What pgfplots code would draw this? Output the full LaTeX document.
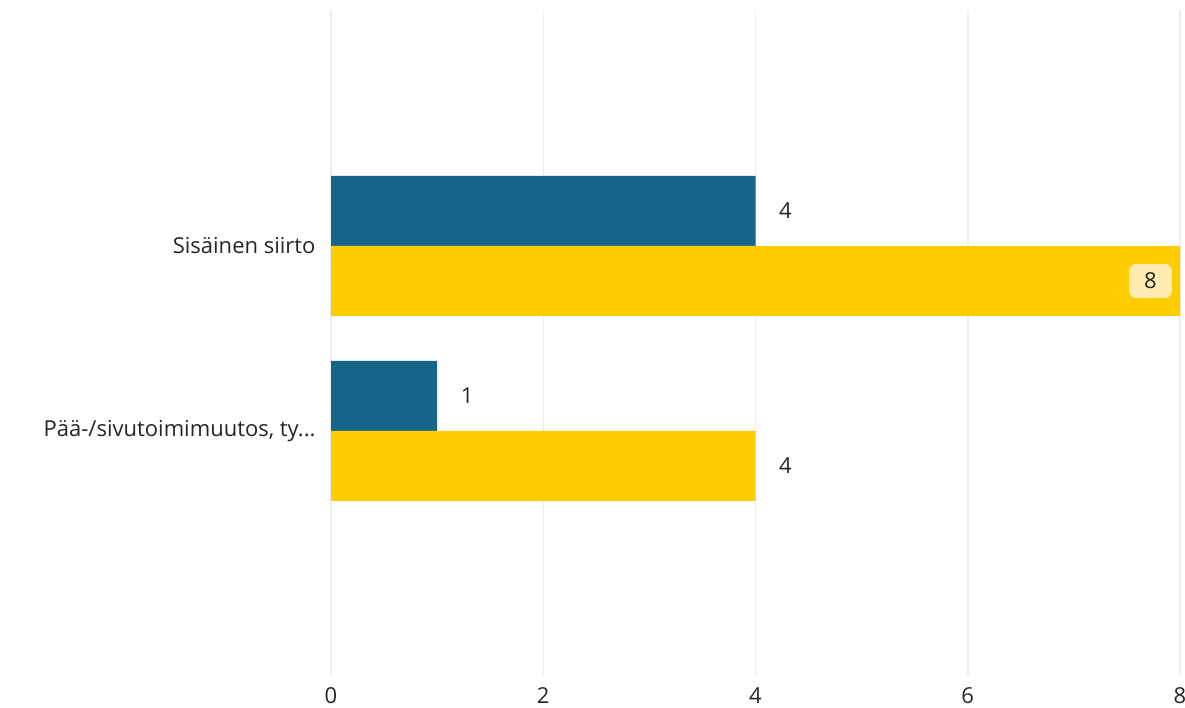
\documentclass[border=0pt]{standalone}
\usepackage{pgfplots}
\pgfplotsset{compat=1.18}
\usepackage{fontspec}
\setmainfont{Open Sans}
\definecolor{cblue}{RGB}{22,100,138}
\definecolor{cyellow}{RGB}{255,204,0}
\definecolor{cbox}{RGB}{255,236,176}
\definecolor{cgrid}{RGB}{238,238,238}
\begin{document}
\begin{tikzpicture}
\useasboundingbox (0,0) rectangle (1185pt,708pt);
\begin{axis}[
  at={(331pt,33pt)}, anchor=south west,
  x=106.125pt, y=185pt,
  xmin=0, xmax=8, ymin=-1.319, ymax=2.276,
  axis line style={draw=none},
  xtick={0,2,4,6,8},
  ytick={0,1},
  yticklabels={Pää-/sivutoimimuutos\rlap{, ty...}\phantom{, ty...}, Sisäinen siirto},
  major tick length=0pt,
  xmajorgrids,
  grid style={cgrid, line width=1.5pt},
  /pgf/number format/assume math mode=true,
  tick label style={font=\fontsize{22}{26}\selectfont, text=black!85},
  yticklabel style={xshift=-12pt},
  xticklabel style={yshift=-9pt},
  xbar, bar width=70pt,
  every node near coord/.append style={font=\fontsize{22}{26}\selectfont, text=black!85},
  clip=false,
]
\addplot[draw=none, fill=cblue, bar shift=35pt, nodes near coords,
  every node near coord/.append style={anchor=center, xshift=30pt}]
  coordinates {(4,1) (1,0)};
\addplot[draw=none, fill=cyellow, bar shift=-35pt]
  coordinates {(8,1) (4,0)};
\addplot[draw=none, fill=none, bar shift=-35pt, nodes near coords,
  every node near coord/.append style={anchor=center, xshift=30pt}]
  coordinates {(4,0)};
\addplot[draw=none, fill=none, bar shift=-35pt, nodes near coords,
  every node near coord/.append style={anchor=east, xshift=-8pt, fill=cbox, rounded corners=7pt, inner xsep=15pt, inner ysep=9pt}]
  coordinates {(8,1)};
\end{axis}
\end{tikzpicture}
\end{document}
